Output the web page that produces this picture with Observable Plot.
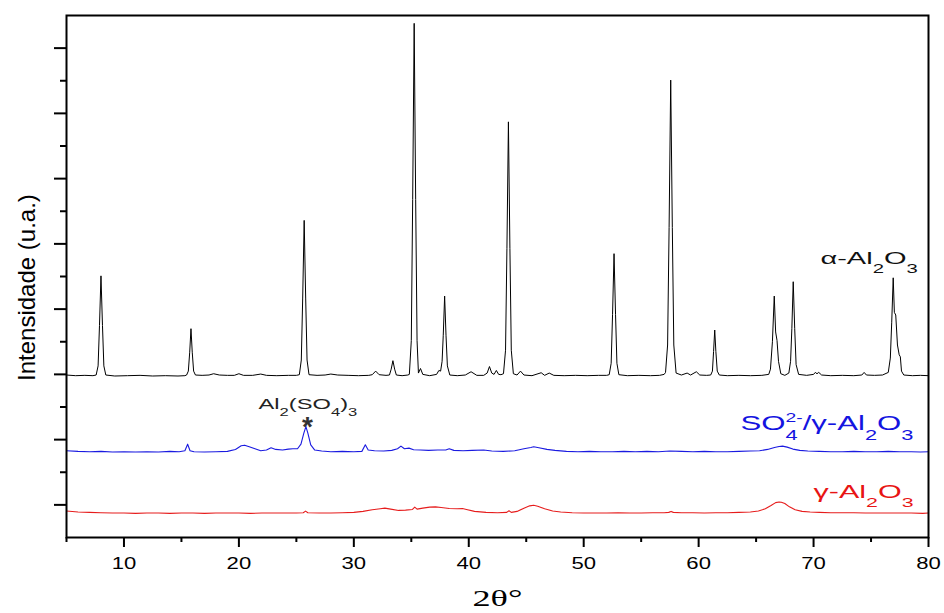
<!DOCTYPE html>
<html><head><meta charset="utf-8">
<script src="https://cdn.jsdelivr.net/npm/d3@7"></script>
<script src="https://cdn.jsdelivr.net/npm/@observablehq/plot@0.6"></script>
<style>html,body{margin:0;padding:0;background:#fff;} #chart{width:944px;height:613px;position:relative;} #dbg{position:absolute;left:80px;top:20px;font:12px monospace;color:#c00;white-space:pre-wrap;width:800px;}</style>
</head><body><div id="chart"></div><div id="dbg"></div>
<script>
// [2θ (degrees), intensity (a.u., stacked)]
const alphaAl2O3 = [
[5.0,1.99],[5.8,1.98],[6.6,1.985],[7.3,1.98],
[7.58,1.99],[7.75,2.13],[7.87,2.75],[8.0,3.51],[8.13,2.75],[8.25,2.13],[8.42,1.99],
[9.2,1.975],[10.3,1.98],[11.4,1.985],[12.5,1.975],[13.6,1.98],[14.7,1.975],[15.3,1.98],
[15.45,1.99],[15.6,2.05],[15.72,2.34],[15.83,2.70],[15.94,2.34],[16.06,2.05],[16.22,1.99],
[16.8,1.985],[17.4,1.99],[17.8,2.01],[18.3,1.99],[19.0,1.985],[19.6,1.985],[20.0,2.01],[20.4,1.985],[21.2,1.985],[21.9,2.005],[22.4,1.985],[23.3,1.98],[24.3,1.985],[25.0,1.985],
[25.26,1.995],[25.43,2.22],[25.55,3.17],[25.68,4.36],[25.81,3.17],[25.93,2.22],[26.1,1.995],
[26.8,1.985],[27.5,1.99],[28.0,2.005],[28.6,1.99],[29.5,1.985],[30.4,1.98],[31.3,1.985],[31.6,1.995],[31.9,2.05],[32.2,1.995],[32.8,1.985],
[33.1,1.99],[33.25,2.08],[33.4,2.21],[33.55,2.08],[33.7,1.99],
[34.2,1.98],[34.7,1.99],
[34.83,2.0],[35.0,2.52],[35.12,4.68],[35.25,7.38],[35.38,4.68],[35.5,2.52],[35.62,2.02],
[35.8,2.09],[36.0,2.0],[36.6,1.98],[37.2,2.0],[37.4,2.06],
[37.55,2.05],[37.68,2.2],[37.78,2.6],[37.9,3.20],[38.02,2.6],[38.14,2.13],[38.35,1.99],
[39.0,1.98],[39.7,1.99],[40.2,2.04],[40.7,1.985],[41.3,1.985],[41.6,2.02],[41.8,2.12],[42.0,2.02],[42.2,2.0],[42.4,2.06],[42.6,2.0],[42.8,1.995],
[43.02,2.01],[43.2,2.37],[43.32,3.93],[43.45,5.87],[43.58,3.93],[43.7,2.37],[43.88,2.01],
[44.2,1.99],[44.5,2.05],[44.8,1.99],[45.5,1.98],[46.3,2.025],[46.6,1.985],[47.0,2.02],[47.4,1.985],[48.3,1.98],[49.3,1.985],[50.3,1.98],[51.3,1.985],[52.0,1.985],
[52.22,1.995],[52.39,2.17],[52.51,2.92],[52.64,3.85],[52.77,2.92],[52.89,2.17],[53.06,1.995],
[53.8,1.98],[54.8,1.985],[55.8,1.98],[56.6,1.985],[57.0,2.0],
[57.12,2.03],[57.3,2.45],[57.43,4.25],[57.57,6.51],[57.71,4.25],[57.84,2.45],[58.04,2.02],
[58.5,1.99],[59.0,2.02],[59.3,1.99],[59.8,2.04],[60.1,1.99],[60.7,1.985],[61.05,1.99],
[61.2,2.05],[61.3,2.35],[61.4,2.68],[61.5,2.35],[61.62,2.05],[61.8,1.99],
[62.5,1.98],[63.5,1.985],[64.5,1.98],[65.5,1.985],[66.1,2.0],
[66.25,2.08],[66.42,2.5],[66.58,3.20],[66.7,2.65],[66.82,2.52],[66.95,2.2],[67.15,2.01],
[67.5,1.985],[67.85,2.02],
[68.0,2.2],[68.11,2.7],[68.23,3.42],[68.36,2.7],[68.48,2.15],[68.7,2.0],
[69.4,1.985],[70.0,2.0],[70.15,2.03],[70.3,2.01],[70.45,2.03],[70.7,1.99],[71.5,1.98],[72.5,1.985],[73.5,1.98],[74.2,1.99],[74.4,2.03],[74.6,1.99],[75.3,1.985],[76.0,1.99],[76.5,2.03],
[76.68,2.25],[76.8,2.8],[76.93,3.48],[77.03,2.95],[77.15,2.91],[77.3,2.45],[77.45,2.3],[77.55,2.27],[77.65,2.05],[77.85,1.99],
[78.6,1.98],[79.3,1.985],[80.0,1.98]
];
const sulfatedGammaAl2O3 = [
[5.0,0.83],[6,0.82],[7,0.815],[8,0.82],[9,0.81],[10,0.815],[11,0.81],[12,0.815],[13,0.81],[14,0.82],[14.8,0.815],
[15.3,0.83],[15.54,0.93],[15.75,0.83],[16.1,0.815],[17,0.81],[18,0.815],[19,0.82],[19.7,0.85],[20.2,0.905],[20.5,0.915],[20.9,0.89],[21.4,0.86],[21.9,0.83],
[22.4,0.84],[22.8,0.875],[23.2,0.85],[23.8,0.84],[24.3,0.855],[24.7,0.86],[25.1,0.86],[25.4,0.93],[25.65,1.1],[25.83,1.2],[26.0,1.1],[26.25,0.92],[26.6,0.84],
[27.2,0.825],[28,0.815],[29,0.82],[30,0.815],[30.7,0.82],[31.0,0.92],[31.25,0.84],[31.8,0.83],[32.6,0.825],[33.3,0.835],[33.8,0.86],[34.1,0.9],[34.4,0.86],
[34.8,0.87],[35.2,0.845],[35.8,0.84],[36.5,0.835],[37.3,0.84],[38.0,0.84],[38.3,0.86],[38.7,0.835],[39.5,0.83],[40.3,0.835],[41.3,0.84],[42,0.825],[43,0.82],
[44,0.83],[44.8,0.86],[45.4,0.88],[45.65,0.89],[46.1,0.875],[46.8,0.85],[47.5,0.835],[48.5,0.82],[49.5,0.815],[50.5,0.82],[51.5,0.815],[52.5,0.815],[53.5,0.82],
[54.5,0.815],[55.5,0.82],[56.5,0.815],[57.5,0.825],[58.5,0.82],[59.5,0.815],[60.5,0.82],[61.5,0.815],[62.5,0.815],[63.5,0.82],[64.5,0.825],[65.3,0.83],[66,0.85],
[66.6,0.88],[67.0,0.895],[67.3,0.9],[67.7,0.885],[68.2,0.855],[68.8,0.835],[69.5,0.825],[70.5,0.82],[71.5,0.815],[72.5,0.815],[73.5,0.82],[74.5,0.815],[75.5,0.815],
[76.5,0.82],[77.5,0.815],[78.5,0.815],[79.3,0.81],[80,0.815]
];
const gammaAl2O3 = [
[5,-0.095],[6,-0.11],[7,-0.115],[8,-0.12],[9,-0.125],[10,-0.125],[11,-0.13],[12,-0.125],[13,-0.125],[14,-0.13],[15,-0.125],[16,-0.125],[17,-0.13],[18,-0.125],
[19,-0.125],[20,-0.125],[21,-0.13],[22,-0.125],[23,-0.125],[24,-0.125],[25,-0.125],[25.6,-0.12],[25.8,-0.095],[26.0,-0.12],[27,-0.125],[28,-0.125],[29,-0.12],
[30,-0.115],[30.8,-0.1],[31.6,-0.075],[32.3,-0.06],[32.7,-0.05],[33.2,-0.065],[33.9,-0.085],[34.5,-0.08],[35.1,-0.07],[35.3,-0.035],[35.5,-0.065],[36.0,-0.05],
[36.6,-0.035],[37.1,-0.03],[37.6,-0.04],[38.3,-0.055],[39.0,-0.06],[39.45,-0.055],[39.8,-0.07],[40.5,-0.1],[41.5,-0.115],[42.5,-0.12],[43.3,-0.115],[43.5,-0.09],
[43.7,-0.115],[44.2,-0.1],[44.8,-0.05],[45.3,-0.015],[45.65,-0.005],[46.0,-0.02],[46.6,-0.06],[47.3,-0.095],[48,-0.11],[49,-0.12],[50,-0.125],[51,-0.125],[52,-0.125],
[53,-0.12],[54,-0.125],[55,-0.125],[56,-0.12],[57,-0.12],[57.4,-0.115],[57.6,-0.1],[57.8,-0.115],[58.5,-0.12],[59.5,-0.12],[60.5,-0.125],[61.5,-0.12],[62.5,-0.12],
[63.5,-0.115],[64.5,-0.11],[65.2,-0.095],[65.8,-0.06],[66.3,-0.01],[66.7,0.035],[67.0,0.045],[67.2,0.04],[67.5,0.02],[67.9,-0.03],[68.4,-0.075],[69,-0.1],[69.7,-0.11],
[70.5,-0.115],[71.5,-0.12],[72.5,-0.12],[73.5,-0.12],[74.5,-0.125],[75.5,-0.125],[76.5,-0.125],[77.5,-0.125],[78.5,-0.125],[79.5,-0.13],[80,-0.125]
];
const xMajorTicks = [10, 20, 30, 40, 50, 60, 70, 80];
const xMinorTicks = [5, 15, 25, 35, 45, 55, 65, 75];
const yMajorTicks = [0, 1, 2, 3, 4, 5, 6, 7];
const yMinorTicks = [0.5, 1.5, 2.5, 3.5, 4.5, 5.5, 6.5];
const xTitle = "2θ°";
const yTitle = "Intensidade (u.a.)";
// rich labels: parts [text, kind, stackOnPrevious]
const seriesLabels = [
  {x: 70.6, y: 3.684, color: "#111111", size: 17, width: 98,
   parts: [["α-Al"], ["2", "sub"], ["O"], ["3", "sub"]]},
  {x: 63.64, y: 1.155, color: "#1414e0", size: 21, width: 173,
   parts: [["SO"], ["4", "sub"], ["2-", "sup", true], ["/γ-Al"], ["2", "sub"], ["O"], ["3", "sub"]]},
  {x: 70.0, y: 0.113, color: "#e81414", size: 18, width: 100,
   parts: [["γ-Al"], ["2", "sub"], ["O"], ["3", "sub"]]},
  {x: 21.71, y: 1.472, color: "#222222", size: 15, width: 99,
   parts: [["Al"], ["2", "sub"], ["(SO"], ["4", "sub"], [")"], ["3", "sub"]]}
];
const asteriskMark = [{x: 25.97, y: 1.063, text: "*"}];

const FONT = "'Liberation Sans', Arial, Helvetica, sans-serif";
const BLUE = "#1a1ae0";
const RED = "#e61c1c";
const xy = {x: d => d[0], y: d => d[1]};
const plain = l => l.parts.map(p => p[0]).join("");

const chart = Plot.plot({
  width: 944, height: 613,
  marginLeft: 66, marginRight: 16, marginTop: 15, marginBottom: 76,
  x: {domain: [5, 80]},
  y: {domain: [-0.5, 7.5]},
  style: {fontFamily: FONT, fontSize: "17px", color: "#000", background: "#fff", overflow: "visible"},
  marks: [
    Plot.line(gammaAl2O3, {...xy, stroke: RED, strokeWidth: 1.1}),
    Plot.line(sulfatedGammaAl2O3, {...xy, stroke: BLUE, strokeWidth: 1.1}),
    Plot.line(alphaAl2O3, {...xy, stroke: "#000", strokeWidth: 1}),
    Plot.axisX({ticks: xMinorTicks, tickSize: 5, tickFormat: () => "", strokeWidth: 2, label: null}),
    Plot.axisX({ticks: xMajorTicks, tickSize: 10, tickPadding: 9, strokeWidth: 2, label: null, fontSize: 17}),
    Plot.axisY({ticks: yMinorTicks, tickSize: 6, tickFormat: () => "", strokeWidth: 2, label: null}),
    Plot.axisY({ticks: yMajorTicks, tickSize: 12, tickFormat: () => "", strokeWidth: 2, label: null}),
    Plot.frame({stroke: "#000", strokeWidth: 2}),
    ...seriesLabels.map(l => Plot.text([l], {x: "x", y: "y", text: plain,
      fill: l.color, fontSize: l.size, textAnchor: "start", lineAnchor: "bottom"})),
    Plot.text(asteriskMark, {x: "x", y: "y", text: "text", fill: "#333", fontSize: 28, fontWeight: "bold",
      textAnchor: "middle", lineAnchor: "bottom"}),
    Plot.text([xTitle], {x: 42.5, y: -1.556, text: d => d, fontFamily: "'Liberation Serif', 'Times New Roman', serif",
      fontSize: 23, fill: "#000", textAnchor: "middle", lineAnchor: "bottom"}),
    Plot.text([yTitle], {x: 2.22, y: 3.33, text: d => d, rotate: -90, fontSize: 24, fill: "#000",
      textAnchor: "middle", lineAnchor: "bottom"})
  ]
});
document.getElementById("chart").append(chart);

const SVGNS = "http://www.w3.org/2000/svg";
function buildRich(el, parts, size) {
  while (el.firstChild) el.removeChild(el.firstChild);
  let shift = 0, prev = null;
  for (const [str, kind, stack] of parts) {
    const t = document.createElementNS(SVGNS, "tspan");
    const target = kind === "sub" ? 0.5 * size : kind === "sup" ? -0.36 * size : 0;
    const fs = kind === "sub" ? 0.7 * size : kind === "sup" ? 0.62 * size : size;
    t.setAttribute("font-size", fs);
    if (target - shift !== 0) t.setAttribute("dy", target - shift);
    if (stack && prev) t.setAttribute("dx", -prev.getComputedTextLength());
    t.textContent = str;
    el.appendChild(t);
    shift = target; prev = t;
  }
}
function stretchTo(el, targetWidth) {
  const w = el.getBBox().width;
  if (w > 0) el.setAttribute("transform", (el.getAttribute("transform") || "") + ` scale(${targetWidth / w},1)`);
}
try {
  const texts = Array.from(chart.querySelectorAll("text"));
  const tickStrings = new Set(xMajorTicks.map(String));
  for (const el of texts) {
    const s = el.textContent;
    const l = seriesLabels.find(l => plain(l) === s);
    if (l) { buildRich(el, l.parts, l.size); stretchTo(el, l.width); }
    else if (s === xTitle) stretchTo(el, 50);
    else if (tickStrings.has(s)) el.setAttribute("transform", (el.getAttribute("transform") || "") + " scale(1.3,1)");
  }
} catch (e) {
  document.getElementById("dbg").textContent = String(e && e.stack || e);
}
</script>
</body></html>
